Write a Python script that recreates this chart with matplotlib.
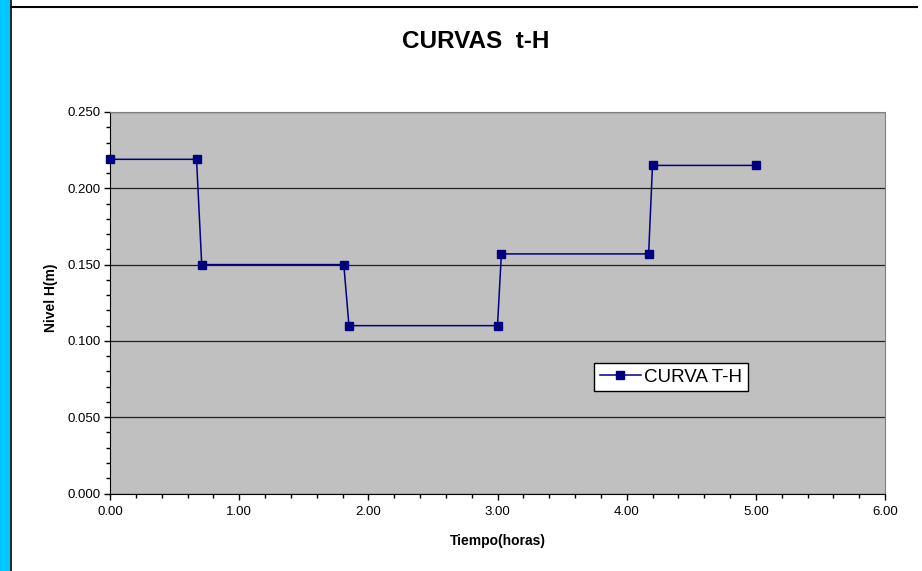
import numpy as np
import matplotlib.pyplot as plt
from matplotlib.ticker import MultipleLocator, FormatStrFormatter
from matplotlib.patches import Rectangle
from matplotlib.lines import Line2D

plt.rcParams['font.family'] = ['Liberation Sans', 'DejaVu Sans']

# datos
tiempo = [0.00, 0.67, 0.71, 1.81, 1.85, 3.00, 3.03, 4.17, 4.20, 5.00]
nivel = [0.219, 0.219, 0.150, 0.150, 0.110, 0.110, 0.157, 0.157, 0.215, 0.215]
serie = 'CURVA T-H'

W, H = 922, 571
fig = plt.figure(figsize=(W / 100, H / 100), dpi=100)

# franja azul izquierda y linea superior
fig.patches.append(Rectangle((0, 0), 10 / W, 1, transform=fig.transFigure,
                             facecolor='#00C8FF', edgecolor='none'))
fig.lines.append(Line2D([10.5 / W, 10.5 / W], [0, 1], transform=fig.transFigure,
                        color='black', lw=1.2))
fig.lines.append(Line2D([10.5 / W, 917 / W], [1 - 7 / H, 1 - 7 / H],
                        transform=fig.transFigure, color='black', lw=1.5))

ax = fig.add_axes([110 / W, 1 - 493.5 / H, 775 / W, 381.5 / H])
ax.set_facecolor('#C0C0C0')

ax.plot(tiempo, nivel, color='#000080', lw=1.1, marker='s', markersize=6,
        label=serie, zorder=3, clip_on=False)

ax.set_xlim(0, 6)
ax.set_ylim(0, 0.25)
ax.xaxis.set_major_locator(MultipleLocator(1))
ax.xaxis.set_minor_locator(MultipleLocator(0.2))
ax.yaxis.set_major_locator(MultipleLocator(0.05))
ax.yaxis.set_minor_locator(MultipleLocator(0.01))
ax.xaxis.set_major_formatter(FormatStrFormatter('%.2f'))
ax.yaxis.set_major_formatter(FormatStrFormatter('%.3f'))
ax.tick_params(which='major', direction='out', length=4, width=1, labelsize=9.5, pad=5)
ax.tick_params(axis='y', which='major', pad=3)
ax.tick_params(which='minor', direction='out', length=3, width=1)

ax.grid(axis='y', which='major', color='#202020', lw=0.9)
ax.set_axisbelow(True)

for s in ['top', 'right']:
    ax.spines[s].set_color('#808080')
ax.spines['left'].set_color('black')
ax.spines['bottom'].set_color('black')

fig.text(476 / W, 1 - 42 / H, 'CURVAS  t-H', ha='center', va='center',
         fontsize=17.5, fontweight='bold')
fig.text(51 / W, 1 - 298 / H, 'Nivel H(m)', ha='center', va='center',
         rotation=90, fontsize=10, fontweight='bold')
fig.text(498 / W, 1 - 541 / H, 'Tiempo(horas)', ha='center', va='center',
         fontsize=10, fontweight='bold')

leg = ax.legend(loc='center', bbox_to_anchor=(671 / W, 1 - 377 / H),
                bbox_transform=fig.transFigure, fancybox=False, framealpha=1,
                edgecolor='black', fontsize=13.5, handlelength=2.2,
                handletextpad=0.2, borderpad=0.3)
leg.get_frame().set_linewidth(1)

fig.savefig('out.png', dpi=100)
